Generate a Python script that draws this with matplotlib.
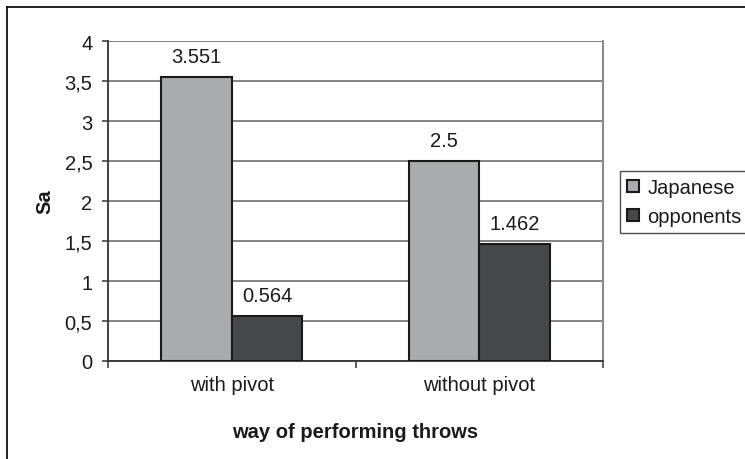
import matplotlib
matplotlib.use("Agg")
import matplotlib.pyplot as plt
from matplotlib.lines import Line2D
import numpy as np

categories = ["with pivot", "without pivot"]
series_names = ["Japanese", "opponents"]
japanese = [3.551, 2.5]
opponents = [0.564, 1.462]
value_labels_jp = ["3.551", "2.5"]
value_labels_op = ["0.564", "1.462"]
y_ticks = [0, 0.5, 1, 1.5, 2, 2.5, 3, 3.5, 4]
y_tick_labels = ["0", "0,5", "1", "1,5", "2", "2,5", "3", "3,5", "4"]

plt.rcParams['font.family'] = ['Liberation Sans', 'DejaVu Sans']

W, H = 745, 460
fig = plt.figure(figsize=(W / 100, H / 100), dpi=100)
ax = fig.add_axes([108 / W, (H - 362) / H, (603 - 108) / W, (362 - 42) / H])

x = np.arange(len(categories))
bw = 1 / 3.5  # gap width 150%
c_jp = "#aaabae"
c_op = "#47484a"
b1 = ax.bar(x - bw / 2, japanese, bw, color=c_jp, edgecolor="#1a1a1a", linewidth=1.5, label=series_names[0], zorder=3)
b2 = ax.bar(x + bw / 2, opponents, bw, color=c_op, edgecolor="#1a1a1a", linewidth=1.5, label=series_names[1], zorder=3)

FS = 14.5
for rect, lab in zip(b1, value_labels_jp):
    ax.annotate(lab, (rect.get_x() + rect.get_width() / 2, rect.get_height()),
                xytext=(0, 8), textcoords="offset points", ha="center", va="bottom", fontsize=FS, color="#1a1a1a")
for rect, lab in zip(b2, value_labels_op):
    ax.annotate(lab, (rect.get_x() + rect.get_width() / 2, rect.get_height()),
                xytext=(0, 8), textcoords="offset points", ha="center", va="bottom", fontsize=FS, color="#1a1a1a")

ax.set_xlim(-0.5, len(categories) - 0.5)
ax.set_ylim(0, 4)
ax.set_yticks(y_ticks)
ax.set_yticklabels(y_tick_labels, fontsize=FS, color="#1a1a1a")
ax.yaxis.grid(True, color="#6e6e6e", linewidth=1.2, zorder=0)
ax.set_axisbelow(True)

# category ticks at boundaries
ax.set_xticks([-0.5, 0.5, 1.5])
ax.set_xticklabels([])
ax.set_xticks(x, minor=True)
ax.set_xticklabels(categories, minor=True, fontsize=FS, color="#1a1a1a")
ax.tick_params(axis="x", which="minor", length=0, pad=10)
ax.tick_params(axis="x", which="major", length=5, width=1.2, color="#444444")
ax.tick_params(axis="y", length=4.3, width=1.2, color="#444444", pad=7)

for s in ["left", "bottom"]:
    ax.spines[s].set_color("#333333")
    ax.spines[s].set_linewidth(1.3)
ax.spines["right"].set_color("#8a8a8a")
ax.spines["right"].set_linewidth(1.5)
ax.spines["top"].set_visible(False)

ax.set_ylabel("Sa", fontsize=FS, fontweight="bold", labelpad=7, color="#1a1a1a")
ax.set_xlabel("way of performing throws", fontsize=FS, fontweight="bold", labelpad=20, color="#1a1a1a")

leg = ax.legend(loc="upper left", bbox_to_anchor=(620 / W, (H - 172) / H), bbox_transform=fig.transFigure,
                frameon=True, fancybox=False, edgecolor="#222222", fontsize=FS,
                handlelength=0.6, handleheight=0.6, handletextpad=0.4, borderpad=0.35,
                labelspacing=0.5, borderaxespad=0)
leg.get_frame().set_linewidth(1.0)
for t in leg.get_texts():
    t.set_color("#1a1a1a")

# outer chart border (left and top visible)
fig.add_artist(Line2D([7.5 / W, 7.5 / W], [0, 1 - 7.5 / H], transform=fig.transFigure, color="#111111", linewidth=1.3))
fig.add_artist(Line2D([7.5 / W, 1], [1 - 7.5 / H, 1 - 7.5 / H], transform=fig.transFigure, color="#111111", linewidth=1.3))

fig.savefig("out.png", dpi=100)
